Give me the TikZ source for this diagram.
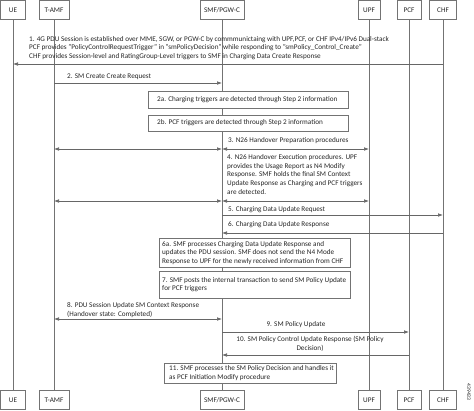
\documentclass[tikz,border=0pt]{standalone}
\usepackage{fontspec}
\setmainfont{Carlito}
\usetikzlibrary{arrows.meta}
\begin{document}
\begin{tikzpicture}[x=1pt,y=-1pt,
  every node/.style={font=\fontsize{7.2}{8.6}\selectfont, text=black!85, inner sep=0pt},
  actor/.style={draw=black!55, line width=0.6pt, fill=white, minimum height=19.4pt},
  life/.style={draw=black!55, line width=0.6pt},
  msg/.style={draw=black!60, line width=0.6pt, -{Latex[length=5pt,width=3.6pt]}},
  dmsg/.style={draw=black!60, line width=0.6pt, {Latex[length=5pt,width=3.6pt]}-{Latex[length=5pt,width=3.6pt]}},
  note/.style={draw=black!55, line width=0.6pt, fill=white, anchor=north west},
  lbl/.style={anchor=base west, align=left}
]
\useasboundingbox (0,0) rectangle (474,410);
% top actors
\node[actor, minimum width=25pt] (ue)  at (13,10) {UE};
\node[actor, minimum width=30pt] (amf) at (54,10) {T-AMF};
\node[actor, minimum width=44pt] (smf) at (222,10) {SMF/PGW-C};
\node[actor, minimum width=22pt] (upf) at (369,10) {UPF};
\node[actor, minimum width=24pt] (pcf) at (409,10) {PCF};
\node[actor, minimum width=27pt] (chf) at (443,10) {CHF};
% bottom actors
\node[actor, minimum width=25pt] (ueB)  at (13,400) {UE};
\node[actor, minimum width=30pt] (amfB) at (54,400) {T-AMF};
\node[actor, minimum width=44pt] (smfB) at (222,400) {SMF/PGW-C};
\node[actor, minimum width=22pt] (upfB) at (369,400) {UPF};
\node[actor, minimum width=24pt] (pcfB) at (409,400) {PCF};
\node[actor, minimum width=27pt] (chfB) at (443,400) {CHF};
% lifelines
\draw[life] (ue.south) -- (ueB.north);
\draw[life] (amf.south) -- (amfB.north);
\draw[life] (smf.south) -- (smfB.north);
\draw[life] (upf.south) -- (upfB.north);
\draw[life] (pcf.south) -- (pcfB.north);
\draw[life] (chf.south) -- (chfB.north);
% 1 (base = last line)
\node[lbl] (t1) at (29,58.5) {1. 4G PDU Session is established over MME, SGW, or PGW-C by commmunictaing with UPF,PCF, or CHF IPv4/IPv6 Dual-stack\\
PCF provides "PolicyControlRequestTrigger" in "smPolicyDecision" while responding to "smPolicy\_Control\_Create"\\
CHF provides Session-level and RatingGroup-Level triggers to SMF in Charging Data Create Response};
\draw[msg] (chf |- 0,64) -- (ue |- 0,64);
% 2
\node[lbl] (t2) at (67,78.3) {2. SM Create Create Request};
\draw[msg] (amf |- 0,83) -- (smf |- 0,83);
% 2a 2b
\node[note, minimum width=200pt, minimum height=16.5pt] (n2a) at (148,91) {};
\node[anchor=west] at ([xshift=9pt]n2a.west) {2a. Charging triggers are detected through Step 2 information};
\node[note, minimum width=200pt, minimum height=16.5pt] (n2b) at (148,114.5) {};
\node[anchor=west] at ([xshift=9pt]n2b.west) {2b. PCF triggers are detected through Step 2 information};
% 3
\node[lbl] (t3) at (228,142.3) {3. N26 Handover Preparation procedures};
\draw[dmsg] (amf |- 0,149) -- (smf |- 0,149);
\draw[dmsg] (smf |- 0,149) -- (upf |- 0,149);
% 4
\node[lbl] (t4) at (227,194) {4. N26 Handover Execution procedures. UPF\\
provides the Usage Report as N4 Modify\\
Response. SMF holds the final SM Context\\
Update Response as Charging and PCF triggers\\
are detected.};
\draw[dmsg] (amf |- 0,201) -- (smf |- 0,201);
\draw[dmsg] (smf |- 0,201) -- (upf |- 0,201);
% 5
\node[lbl] (t5) at (228,211.3) {5. Charging Data Update Request};
\draw[msg] (smf |- 0,215) -- (chf |- 0,215);
% 6
\node[lbl] (t6) at (228,226.3) {6. Charging Data Update Response};
\draw[msg] (chf |- 0,233) -- (smf |- 0,233);
% 6a
\node[note, minimum width=191pt, minimum height=29pt] (n6a) at (159,238) {};
\node[anchor=west, align=left] at ([xshift=3pt]n6a.west) {6a. SMF processes Charging Data Update Response and\\
updates the PDU session. SMF does not send the N4 Mode\\
Response to UPF for the newly received information from CHF};
% 7
\node[note, minimum width=191pt, minimum height=27pt] (n7) at (159,271) {};
\node[anchor=west, align=left] at ([xshift=3pt]n7.west) {7. SMF posts the internal transaction to send SM Policy Update\\
for PCF triggers};
% 8
\node[lbl] (t8) at (67,316) {8. PDU Session Update SM Context Response\\
(Handover state: Completed)};
\draw[dmsg] (amf |- 0,319) -- (smf |- 0,319);
% 9
\node[anchor=base] (t9) at (296,326.3) {9. SM Policy Update};
\draw[msg] (smf |- 0,332) -- (pcf |- 0,332);
% 10
\node[anchor=base, align=center] (t10) at (310,350) {10. SM Policy Control Update Response (SM Policy\\
Decision)};
\draw[msg] (pcf |- 0,355) -- (smf |- 0,355);
% 11
\node[note, minimum width=172pt, minimum height=20pt] (n11) at (164,363) {};
\node[anchor=west, align=left] at ([xshift=5pt]n11.west) {11. SMF processes the SM Policy Decision and handles it\\
as PCF Initiation Modify procedure};
% figure number
\node[rotate=-90, font=\fontsize{5.5}{6}\selectfont] (fig) at (469,392) {439433};
\end{tikzpicture}
\end{document}
